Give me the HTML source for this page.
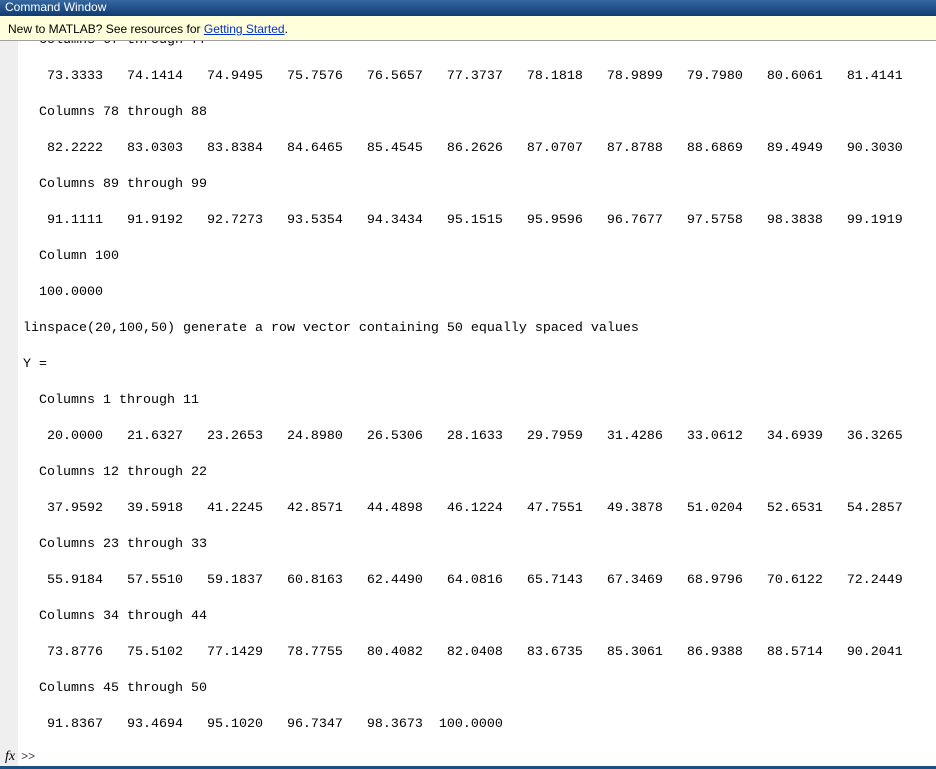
<!DOCTYPE html>
<html><head><meta charset="utf-8"><style>
body{margin:0;width:936px;height:769px;overflow:hidden;background:#fff;position:relative;font-family:"Liberation Sans",sans-serif}
#title{position:absolute;left:0;top:0;width:936px;height:16px;background:linear-gradient(#3567a0,#0f3c72);color:#fff;font-size:12px;line-height:15px;padding-left:5px;box-sizing:border-box;z-index:3}
#tip{position:absolute;left:0;top:16px;width:936px;height:25px;background:#ffffdc;border-bottom:1px solid #a0a0a0;font-size:12px;line-height:26px;padding-left:8px;box-sizing:border-box;z-index:3;color:#000}
#tip a{color:#0033cc;text-decoration:underline}
#gutter{position:absolute;left:0;top:41px;width:18px;height:725px;background:#efefef;z-index:1}
#out{position:absolute;left:23px;top:32px;margin:0;font-family:"Liberation Mono",monospace;font-size:13.33px;line-height:18px;color:#000;z-index:2;white-space:pre}
#prompt{position:absolute;left:5px;top:749px;font-family:"Liberation Serif",serif;font-style:italic;font-size:14px;z-index:2}
#prompt span{font-style:normal;font-family:"Liberation Sans",sans-serif;font-size:12px;color:#444;margin-left:6px}
#bottom{position:absolute;left:0;top:766px;width:936px;height:3px;background:#1f4e82;z-index:3}
</style></head><body>
<div id="title">Command Window</div>
<div id="tip">New to MATLAB? See resources for <a>Getting Started</a>.</div>
<div id="gutter"></div>
<pre id="out">  Columns 67 through 77

   73.3333   74.1414   74.9495   75.7576   76.5657   77.3737   78.1818   78.9899   79.7980   80.6061   81.4141

  Columns 78 through 88

   82.2222   83.0303   83.8384   84.6465   85.4545   86.2626   87.0707   87.8788   88.6869   89.4949   90.3030

  Columns 89 through 99

   91.1111   91.9192   92.7273   93.5354   94.3434   95.1515   95.9596   96.7677   97.5758   98.3838   99.1919

  Column 100

  100.0000

linspace(20,100,50) generate a row vector containing 50 equally spaced values

Y =

  Columns 1 through 11

   20.0000   21.6327   23.2653   24.8980   26.5306   28.1633   29.7959   31.4286   33.0612   34.6939   36.3265

  Columns 12 through 22

   37.9592   39.5918   41.2245   42.8571   44.4898   46.1224   47.7551   49.3878   51.0204   52.6531   54.2857

  Columns 23 through 33

   55.9184   57.5510   59.1837   60.8163   62.4490   64.0816   65.7143   67.3469   68.9796   70.6122   72.2449

  Columns 34 through 44

   73.8776   75.5102   77.1429   78.7755   80.4082   82.0408   83.6735   85.3061   86.9388   88.5714   90.2041

  Columns 45 through 50

   91.8367   93.4694   95.1020   96.7347   98.3673  100.0000
</pre>
<div id="prompt">fx<span>&gt;&gt;</span></div>
<div id="bottom"></div>
</body></html>
